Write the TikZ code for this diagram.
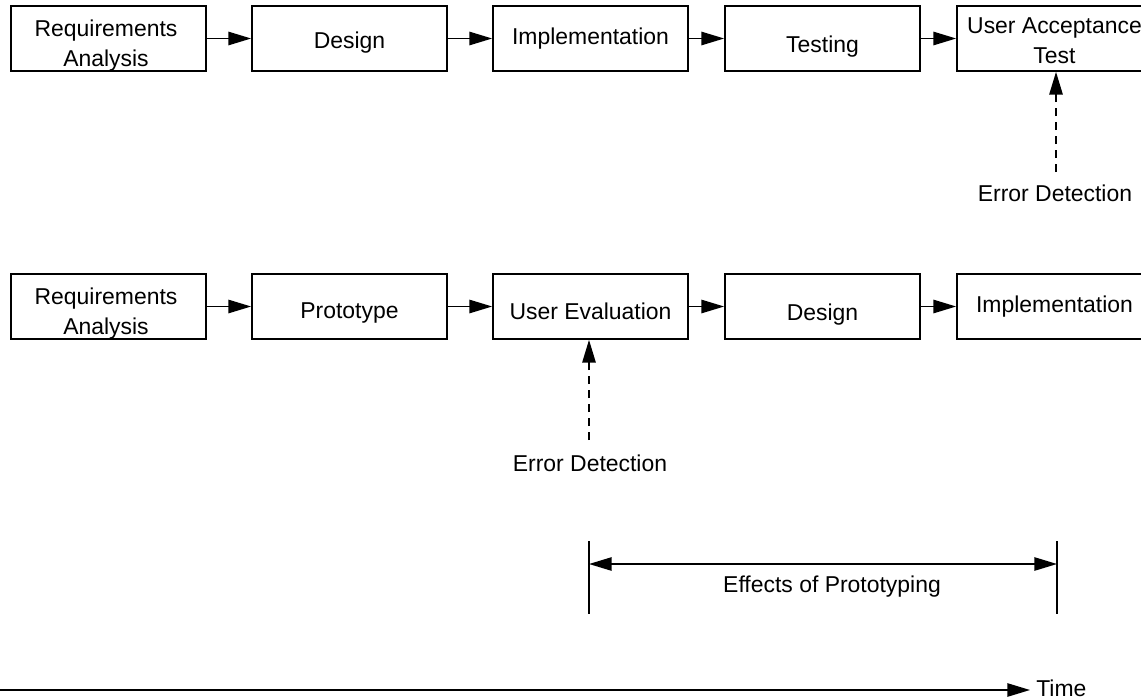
\documentclass[tikz,border=0pt]{standalone}
\usepackage{fontspec}
\setmainfont{Liberation Sans}
\usetikzlibrary{arrows.meta}
\begin{document}
\begin{tikzpicture}[x=0.75pt,y=-0.75pt,
  box/.style={draw, line width=1.3pt, minimum width=146.25pt, minimum height=48.75pt, inner sep=0pt},
  lbl/.style={font=\fontsize{17.2}{22.5}\selectfont, inner sep=0pt, align=center},
  flow/.style={line width=1.2pt, -{Triangle[length=17pt,width=10pt]}},
  dasharrow/.style={flow, dash pattern=on 6pt off 4.5pt},
  dimarrow/.style={line width=1.2pt, {Triangle[length=17pt,width=10pt]}-{Triangle[length=17pt,width=10pt]}},
  tick/.style={line width=1.3pt}]
\clip (0,0) rectangle (1141,699);
\fill[white] (0,0) rectangle (1141,699);
% top row
\node[box] (ra1) at (108.5,38.5) {};
\node[box] (de1) at (349.5,38.5) {};
\node[box] (im1) at (590.5,38.5) {};
\node[box] (te1) at (822.5,38.5) {};
\node[box] (uat) at (1054.5,38.5) {};
\node[lbl] (ra1t) at (106,45.5) {Requirements\\Analysis};
\node[lbl] (de1t) at (349.5,42.5) {Design};
\node[lbl] (im1t) at (590.5,38.5) {Implementation};
\node[lbl] (te1t) at (822.5,47) {Testing};
\node[lbl] (uatt) at (1054.5,40.5) {User Acceptance\\Test};
\draw[flow] (ra1) -- (de1);
\draw[flow] (de1) -- (im1);
\draw[flow] (im1) -- (te1);
\draw[flow] (te1) -- (uat);
\node[lbl] (err1) at (1055,193) {Error Detection};
\coordinate (d1) at (1056,172);
\draw[dasharrow] (d1) -- (d1 |- uat.south);
% bottom row
\node[box] (ra2) at (108.5,306.5) {};
\node[box] (pr2) at (349.5,306.5) {};
\node[box] (uev) at (590.5,306.5) {};
\node[box] (de2) at (822.5,306.5) {};
\node[box] (im2) at (1054.5,306.5) {};
\node[lbl] (ra2t) at (106,313.5) {Requirements\\Analysis};
\node[lbl] (pr2t) at (349.5,313) {Prototype};
\node[lbl] (uevt) at (590.5,311) {User Evaluation};
\node[lbl] (de2t) at (822.5,315) {Design};
\node[lbl] (im2t) at (1054.5,307) {Implementation};
\draw[flow] (ra2) -- (pr2);
\draw[flow] (pr2) -- (uev);
\draw[flow] (uev) -- (de2);
\draw[flow] (de2) -- (im2);
\node[lbl] (err2) at (590,463) {Error Detection};
\coordinate (d2) at (589,440);
\draw[dasharrow] (d2) -- (d2 |- uev.south);
% effects of prototyping
\coordinate (l1) at (589,541);
\coordinate (l2) at (589,614);
\coordinate (r1) at (1057,541);
\coordinate (r2) at (1057,614);
\draw[tick] (l1) -- (l2);
\draw[tick] (r1) -- (r2);
\coordinate (dl) at (589,564);
\coordinate (dr) at (1057,564);
\draw[dimarrow] (dl) -- (dr);
\node[lbl] (eff) at (832,587) {Effects of Prototyping};
% time axis
\coordinate (t0) at (-5,690);
\node[lbl, anchor=west, inner xsep=4.5pt] (time) at (1030,688) {Time};
\draw[flow] (t0) -- (t0 -| time.west);
\end{tikzpicture}
\end{document}
